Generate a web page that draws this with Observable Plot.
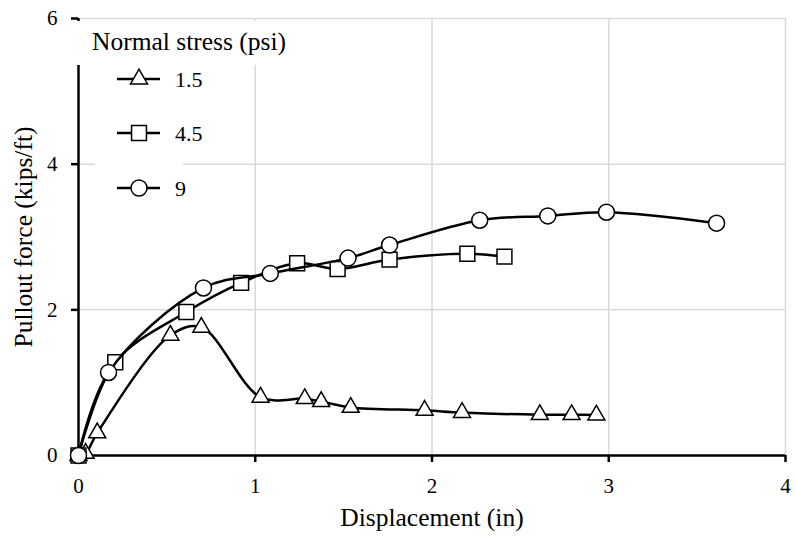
<!DOCTYPE html>
<html>
<head>
<meta charset="utf-8">
<script src="https://cdn.jsdelivr.net/npm/d3@7"></script>
<script src="https://cdn.jsdelivr.net/npm/@observablehq/plot@0.6"></script>
<style>
  html, body { margin: 0; padding: 0; background: white; }
  #wrap { position: relative; width: 795px; height: 541px; font-family: "Liberation Serif", "Times New Roman", serif; }
  #legend { position: absolute; left: 0; top: 0; pointer-events: none; }
</style>
</head>
<body>
<div id="wrap"></div>
<script>
// ---- data ----
const xTicks = [0, 1, 2, 3, 4];
const yTicks = [0, 2, 4, 6];
const seriesNames = ["1.5", "4.5", "9"];
const seriesSymbols = ["triangle", "square", "circle"];
const legendTitle = "Normal stress (psi)";
const xLabel = "Displacement (in)";
const yLabel = "Pullout force (kips/ft)";

const s15x = [0, 0.04, 0.106, 0.52, 0.695, 1.03, 1.28, 1.373, 1.54, 1.958, 2.17, 2.61, 2.79, 2.93];
const s15y = [0, 0.03, 0.31, 1.65, 1.76, 0.80, 0.78, 0.74, 0.66, 0.62, 0.59, 0.56, 0.56, 0.555];

const s45x = [0, 0.208, 0.61, 0.92, 1.237, 1.466, 1.76, 2.2, 2.41];
const s45y = [0, 1.28, 1.97, 2.37, 2.64, 2.56, 2.69, 2.77, 2.73];

const s9x = [0, 0.17, 0.707, 1.085, 1.525, 1.76, 2.27, 2.655, 2.987, 3.61];
const s9y = [0, 1.14, 2.30, 2.50, 2.71, 2.89, 3.23, 3.29, 3.34, 3.19];

const FONT = "'Liberation Serif', 'Times New Roman', serif";
const toRows = (xs, ys) => xs.map((x, i) => ({x, y: ys[i]}));
const series = [toRows(s15x, s15y), toRows(s45x, s45y), toRows(s9x, s9y)];
const radii = {triangle: 6.3, square: 8.4, circle: 8};

const seriesMarks = series.flatMap((rows, i) => [
  Plot.line(rows, {x: "x", y: "y", stroke: "black", strokeWidth: 2.5, curve: "catmull-rom"}),
  Plot.dot(rows, {x: "x", y: "y", symbol: seriesSymbols[i], r: radii[seriesSymbols[i]], fill: "white", stroke: "black", strokeWidth: 1.5})
]);

const chart = Plot.plot({
  width: 795,
  height: 541,
  marginLeft: 78,
  marginRight: 10,
  marginTop: 18,
  marginBottom: 86,
  style: {fontFamily: FONT, fontSize: "21px", color: "black", background: "white"},
  x: {domain: [0, 4]},
  y: {domain: [0, 6]},
  marks: [
    Plot.gridX(xTicks.slice(1), {stroke: "#d9d9d9", strokeOpacity: 1, strokeWidth: 1.5}),
    Plot.gridY(yTicks.slice(1), {stroke: "#d9d9d9", strokeOpacity: 1, strokeWidth: 1.5}),
    Plot.axisX(xTicks, {tickSize: 7, tickPadding: 16, strokeWidth: 2.5, stroke: "black", fontSize: 21, label: null, tickFormat: d => String(d), fontFamily: FONT}),
    Plot.axisY(yTicks, {tickSize: 7, tickPadding: 14, strokeWidth: 2.5, stroke: "black", fontSize: 21, label: null, tickFormat: d => String(d), fontFamily: FONT}),
    Plot.ruleY([0], {stroke: "black", strokeWidth: 2.5}),
    Plot.ruleX([0], {stroke: "black", strokeWidth: 2.5}),
    Plot.text([xLabel], {frameAnchor: "bottom", dy: 70, fontSize: 25.5, fill: "black", fontFamily: FONT}),
    Plot.text([yLabel], {frameAnchor: "left", textAnchor: "middle", dx: -55, rotate: -90, fontSize: 25.5, fill: "black", fontFamily: FONT}),
    ...seriesMarks
  ]
});

const wrap = document.getElementById("wrap");
wrap.appendChild(chart);

// ---- legend overlay ----
const svg = d3.select(wrap).append("svg")
  .attr("id", "legend").attr("width", 795).attr("height", 541);
svg.append("rect").attr("x", 76.5).attr("y", 21).attr("width", 225).attr("height", 44).attr("fill", "white");
svg.append("rect").attr("x", 95).attr("y", 64).attr("width", 88).attr("height", 138).attr("fill", "white");
svg.append("text").attr("x", 92).attr("y", 50).attr("font-size", 25.5)
  .style("font-family", FONT).attr("fill", "black").text(legendTitle);
const symMap = {triangle: d3.symbolTriangle, square: d3.symbolSquare, circle: d3.symbolCircle};
const entryY = [79, 133, 188];
seriesNames.forEach((name, i) => {
  const cy = entryY[i];
  svg.append("line").attr("x1", 117).attr("x2", 160).attr("y1", cy).attr("y2", cy)
    .attr("stroke", "black").attr("stroke-width", 2.5);
  const r = radii[seriesSymbols[i]];
  svg.append("path").attr("transform", `translate(139,${cy})`)
    .attr("d", d3.symbol(symMap[seriesSymbols[i]], Math.PI * r * r)())
    .attr("fill", "white").attr("stroke", "black").attr("stroke-width", 1.5);
  svg.append("text").attr("x", 175).attr("y", cy).attr("dy", "0.35em").attr("font-size", 22)
    .style("font-family", FONT).attr("fill", "black").text(name);
});
</script>
</body>
</html>
